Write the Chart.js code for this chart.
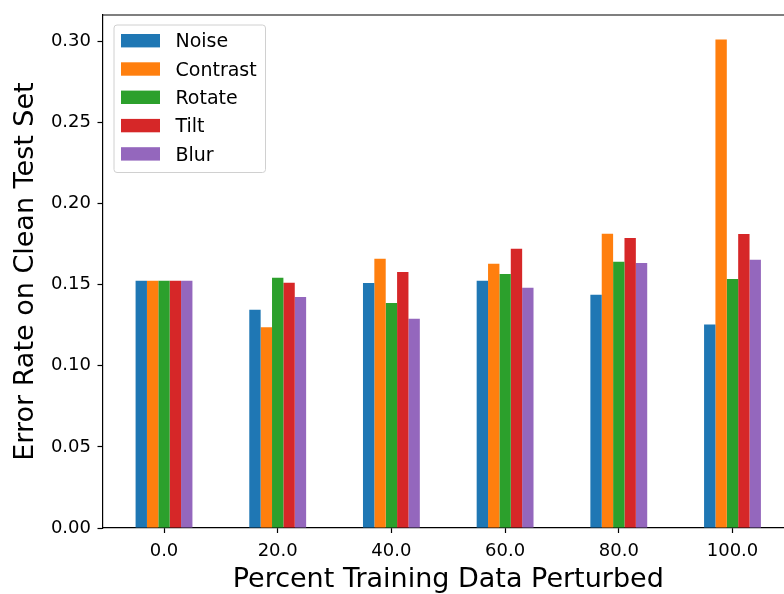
<!DOCTYPE html>
<html>
<head>
<meta charset="utf-8">
<script src="https://cdn.jsdelivr.net/npm/chart.js@4/dist/chart.umd.min.js"></script>
<style>
  html, body { margin: 0; padding: 0; overflow: hidden; background: #fff; }
  canvas { display: block; }
</style>
</head>
<body>
<canvas id="chart" width="800" height="594"></canvas>
<script>
// Percent of training data perturbed (one group per level)
const categories = ['0.0', '20.0', '40.0', '60.0', '80.0', '100.0'];
const positions = [0, 1, 2, 3, 4, 5];

// Error rate on the clean test set, per perturbation type
const noise    = [0.1525, 0.1346, 0.1510, 0.1525, 0.1438, 0.1255];
const contrast = [0.1525, 0.1237, 0.1660, 0.1630, 0.1815, 0.3012];
const rotate   = [0.1525, 0.1543, 0.1387, 0.1566, 0.1642, 0.1535];
const tilt     = [0.1525, 0.1512, 0.1578, 0.1722, 0.1788, 0.1813];
const blur     = [0.1525, 0.1424, 0.1290, 0.1481, 0.1634, 0.1654];

const seriesNames = ['Noise', 'Contrast', 'Rotate', 'Tilt', 'Blur'];
const seriesValues = [noise, contrast, rotate, tilt, blur];
const seriesColors = ['#1f77b4', '#ff7f0e', '#2ca02c', '#d62728', '#9467bd'];

const yTickValues = [0.00, 0.05, 0.10, 0.15, 0.20, 0.25, 0.30];

const FONT = '"DejaVu Sans", "Liberation Sans", sans-serif';

const datasets = seriesNames.map((name, i) => ({
  label: name,
  data: positions.map((p, j) => ({ x: p, y: seriesValues[i][j] })),
  backgroundColor: seriesColors[i],
  borderWidth: 0,
  categoryPercentage: 0.5,
  barPercentage: 1.0
}));

// Axes frame: top and right spines
const framePlugin = {
  id: 'frame',
  afterDatasetsDraw(chart) {
    const { ctx, chartArea: a } = chart;
    ctx.save();
    ctx.strokeStyle = '#000';
    ctx.lineWidth = 1.2;
    ctx.beginPath();
    ctx.moveTo(a.left, a.top);
    ctx.lineTo(a.right, a.top);
    ctx.lineTo(a.right, a.bottom);
    ctx.stroke();
    ctx.restore();
  }
};

// Boxed legend in the upper-left corner of the plot
const boxLegendPlugin = {
  id: 'boxLegend',
  afterDraw(chart) {
    const { ctx, chartArea: a } = chart;
    const x0 = a.left + 11.5, y0 = a.top + 10, w = 151.5, h = 147.5, r = 3;
    ctx.save();
    ctx.beginPath();
    ctx.moveTo(x0 + r, y0);
    ctx.lineTo(x0 + w - r, y0);
    ctx.arcTo(x0 + w, y0, x0 + w, y0 + r, r);
    ctx.lineTo(x0 + w, y0 + h - r);
    ctx.arcTo(x0 + w, y0 + h, x0 + w - r, y0 + h, r);
    ctx.lineTo(x0 + r, y0 + h);
    ctx.arcTo(x0, y0 + h, x0, y0 + h - r, r);
    ctx.lineTo(x0, y0 + r);
    ctx.arcTo(x0, y0, x0 + r, y0, r);
    ctx.closePath();
    ctx.fillStyle = 'rgba(255,255,255,0.8)';
    ctx.fill();
    ctx.strokeStyle = '#d0d0d0';
    ctx.lineWidth = 1;
    ctx.stroke();

    ctx.font = '19px ' + FONT;
    ctx.textAlign = 'left';
    ctx.textBaseline = 'alphabetic';
    chart.data.datasets.forEach((ds, i) => {
      const cy = y0 + 15.7 + i * 28.3;
      ctx.fillStyle = ds.backgroundColor;
      ctx.fillRect(x0 + 7, cy - 6.7, 39, 13.4);
      ctx.fillStyle = '#000';
      ctx.fillText(ds.label, x0 + 61.5, cy + 6.6);
    });
    ctx.restore();
  }
};

new Chart(document.getElementById('chart'), {
  type: 'bar',
  data: { datasets },
  plugins: [framePlugin, boxLegendPlugin],
  options: {
    responsive: false,
    animation: false,
    devicePixelRatio: 1,
    layout: { padding: { top: 15, right: 6, left: 0, bottom: 0 } },
    plugins: {
      legend: { display: false },
      tooltip: { enabled: false }
    },
    scales: {
      x: {
        type: 'linear',
        min: -0.541,
        max: 5.541,
        offset: false,
        afterBuildTicks: (s) => { s.ticks = positions.map(v => ({ value: v })); },
        afterFit: (s) => { s.height = 66; s.paddingLeft = 0; s.paddingRight = 0; },
        grid: {
          offset: false,
          drawOnChartArea: false,
          drawTicks: true,
          tickLength: 5,
          tickColor: '#000',
          tickWidth: 1.2
        },
        border: { display: true, color: '#000', width: 1.2 },
        ticks: {
          color: '#000',
          font: { family: FONT, size: 18 },
          padding: 7.5,
          maxRotation: 0,
          autoSkip: false,
          callback: (v) => categories[positions.indexOf(v)] ?? ''
        },
        title: {
          display: true,
          text: 'Percent Training Data Perturbed',
          color: '#000',
          font: { family: FONT, size: 27, lineHeight: 1 },
          padding: { top: 0, bottom: 0.5 }
        }
      },
      y: {
        type: 'linear',
        min: 0,
        max: 0.3163,
        afterBuildTicks: (s) => { s.ticks = yTickValues.map(v => ({ value: v })); },
        afterFit: (s) => { s.width = 102.5; s.paddingTop = 0; s.paddingBottom = 0; },
        grid: {
          drawOnChartArea: false,
          drawTicks: true,
          tickLength: 5,
          tickColor: '#000',
          tickWidth: 1.2
        },
        border: { display: true, color: '#000', width: 1.2 },
        ticks: {
          color: '#000',
          font: { family: FONT, size: 18 },
          padding: 6.5,
          callback: (v) => Number(v).toFixed(2)
        },
        title: {
          display: true,
          text: 'Error Rate on Clean Test Set',
          color: '#000',
          font: { family: FONT, size: 27, lineHeight: 1 },
          padding: { top: 12.5, bottom: 0 }
        }
      }
    }
  }
});
</script>
</body>
</html>
